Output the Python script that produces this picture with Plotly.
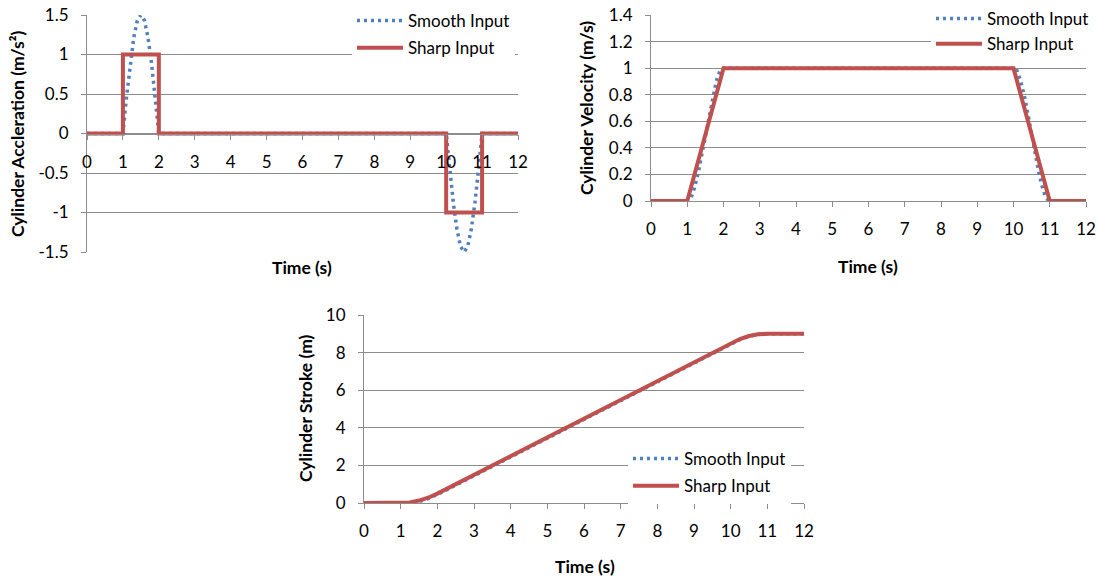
import plotly.graph_objects as go

# ---------------- data ----------------
# Acceleration (m/s^2)
acc_sharp_t = [0, 1, 1, 2, 2, 10, 10, 11, 11, 12]
acc_sharp_v = [0, 0, 1, 1, 0, 0, -1, -1, 0, 0]
acc_smooth_t = [0, 1.0, 1.1, 1.2, 1.3, 1.4, 1.5, 1.6, 1.7, 1.8, 1.9, 2.0,
                10.0, 10.1, 10.2, 10.3, 10.4, 10.5, 10.6, 10.7, 10.8, 10.9, 11.0, 12]
acc_smooth_v = [0, 0, 0.46, 0.88, 1.21, 1.43, 1.5, 1.43, 1.21, 0.88, 0.46, 0,
                0, -0.46, -0.88, -1.21, -1.43, -1.5, -1.43, -1.21, -0.88, -0.46, 0, 0]

# Velocity (m/s)
vel_sharp_t = [0, 1, 2, 10, 11, 12]
vel_sharp_v = [0, 0, 1, 1, 0, 0]
vel_smooth_t = [0, 1.0, 1.1, 1.2, 1.3, 1.4, 1.5, 1.6, 1.7, 1.8, 1.9, 2.0,
                10.0, 10.1, 10.2, 10.3, 10.4, 10.5, 10.6, 10.7, 10.8, 10.9, 11.0, 12]
vel_smooth_v = [0, 0, 0.02, 0.1, 0.21, 0.35, 0.5, 0.65, 0.79, 0.9, 0.98, 1,
                1, 0.98, 0.9, 0.79, 0.65, 0.5, 0.35, 0.21, 0.1, 0.02, 0, 0]

# Stroke (m)
str_sharp_t = [0, 1, 1.25, 1.5, 1.75, 2, 10, 10.25, 10.5, 10.75, 11, 12]
str_sharp_v = [0, 0, 0.03, 0.13, 0.28, 0.5, 8.5, 8.72, 8.88, 8.97, 9, 9]
str_smooth_t = [0, 1, 1.25, 1.5, 1.75, 2, 10, 10.25, 10.5, 10.75, 11, 12]
str_smooth_v = [0, 0, 0.01, 0.08, 0.23, 0.45, 8.45, 8.69, 8.87, 8.97, 9, 9]

x_ticks = list(range(0, 13))
acc_ticks = [-1.5, -1, -0.5, 0, 0.5, 1, 1.5]
acc_tick_labels = ["-1.5", "-1", "-0.5", "0", "0.5", "1", "1.5"]
vel_ticks = [0, 0.2, 0.4, 0.6, 0.8, 1, 1.2, 1.4]
vel_tick_labels = ["0", "0.2", "0.4", "0.6", "0.8", "1", "1.2", "1.4"]
str_ticks = [0, 2, 4, 6, 8, 10]

# ---------------- style ----------------
W, H = 1097, 579
BLUE = "#4F81BD"
RED = "#C0504D"
GRID = "#8C8C8C"
FONT = "Lato"
TICKFONT = dict(family=FONT, size=17, color="#000000")
TITLEFONT = dict(family=FONT, size=17.5, color="#000000")
LEGFONT = dict(family=FONT, size=17, color="#000000")


def px(x):
    return x / W


def py(y):
    return 1 - y / H


fig = go.Figure()

panels = [
    ("", acc_smooth_t, acc_smooth_v, acc_sharp_t, acc_sharp_v, "legend"),
    ("2", vel_smooth_t, vel_smooth_v, vel_sharp_t, vel_sharp_v, "legend2"),
    ("3", str_smooth_t, str_smooth_v, str_sharp_t, str_sharp_v, "legend3"),
]
for suf, st, sv, ht, hv, leg in panels:
    fig.add_trace(go.Scatter(x=st, y=sv, mode="lines", name="Smooth Input",
                             line=dict(color=BLUE, width=3.5, dash="3px,4px"),
                             xaxis="x" + suf, yaxis="y" + suf, legend=leg,
                             legendgroup="s" + suf))
    fig.add_trace(go.Scatter(x=ht, y=hv, mode="lines", name="Sharp Input",
                             line=dict(color=RED, width=4),
                             xaxis="x" + suf, yaxis="y" + suf, legend=leg,
                             legendgroup="h" + suf))

common_x = dict(range=[0, 12], tickvals=x_ticks, showgrid=False, showline=True,
                linecolor=GRID, linewidth=1, ticks="outside", ticklen=5,
                tickcolor=GRID, tickfont=TICKFONT, zeroline=False,
                ticklabelstandoff=8, fixedrange=True, automargin=False)
common_y = dict(showgrid=True, gridcolor=GRID, gridwidth=1, showline=True,
                linecolor=GRID, linewidth=1, ticks="outside", ticklen=5,
                tickcolor=GRID, tickfont=TICKFONT, zeroline=False,
                ticklabelstandoff=9, fixedrange=True, automargin=False)

# panel geometry (pixels)
tl = dict(l=87, r=518, t=15, b=252)
tr = dict(l=651, r=1086, t=15, b=201)
bc = dict(l=364, r=804, t=315, b=503)

zero_y_tl = tl["t"] + (tl["b"] - tl["t"]) / 2

legend_common = dict(xanchor="left", yanchor="top", bgcolor="white",
                     font=LEGFONT, traceorder="grouped", itemclick=False,
                     itemdoubleclick=False, itemwidth=46)

fig.update_layout(
    width=W, height=H,
    margin=dict(l=0, r=0, t=0, b=0, autoexpand=False),
    paper_bgcolor="white", plot_bgcolor="white",
    xaxis=dict(common_x, domain=[px(tl["l"]), px(tl["r"])], anchor="free",
               position=py(zero_y_tl)),
    yaxis=dict(common_y, domain=[py(tl["b"]), py(tl["t"])], range=[-1.5, 1.5],
               tickvals=acc_ticks, ticktext=acc_tick_labels, anchor="x"),
    xaxis2=dict(common_x, domain=[px(tr["l"]), px(tr["r"])], anchor="y2"),
    yaxis2=dict(common_y, domain=[py(tr["b"]), py(tr["t"])], range=[0, 1.4],
                tickvals=vel_ticks, ticktext=vel_tick_labels, anchor="x2"),
    xaxis3=dict(common_x, domain=[px(bc["l"]), px(bc["r"])], anchor="y3"),
    yaxis3=dict(common_y, domain=[py(bc["b"]), py(bc["t"])], range=[0, 10],
                tickvals=str_ticks, anchor="x3"),
    showlegend=True,
    legend=dict(legend_common, x=px(352), y=py(3), tracegroupgap=2),
    legend2=dict(legend_common, x=px(931), y=py(1), tracegroupgap=0),
    legend3=dict(legend_common, x=px(628), y=py(441), tracegroupgap=2),
)

annos = [
    ("Time (s)", 302, 268, 0),
    ("Time (s)", 868, 266, 0),
    ("Time (s)", 585, 566, 0),
    ("Cylinder Accleration (m/s²)", 18, 134, -90),
    ("Cylinder Velocity (m/s)", 586, 108, -90),
    ("Cylinder Stroke (m)", 306, 408, -90),
]
for text, x, y, ang in annos:
    fig.add_annotation(text="<b>%s</b>" % text, x=px(x), y=py(y), xref="paper",
                       yref="paper", xanchor="center", yanchor="middle",
                       textangle=ang, showarrow=False, font=TITLEFONT)

fig.write_html("out.html")
